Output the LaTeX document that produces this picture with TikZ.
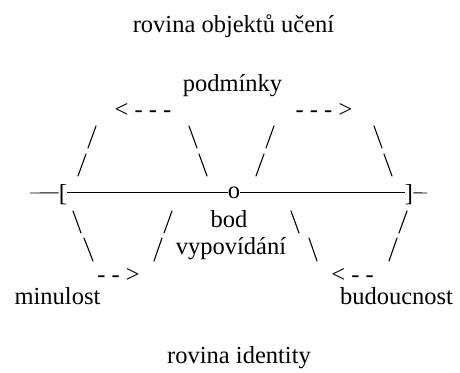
\documentclass[tikz,border=0pt]{standalone}
\usepackage{fontspec}
\setmainfont{Liberation Serif}
\begin{document}
\begin{tikzpicture}[x=1pt,y=-1pt,
  lbl/.style={font=\fontsize{24.5}{28}\selectfont, inner sep=0pt, anchor=base},
  slash/.style={line width=1.1pt, line cap=round},
  axis/.style={line width=0.9pt}]
\useasboundingbox (0,0) rectangle (460,372);

% labels
\node[lbl] (top) at (233.5,32) {rovina objektů učení};
\node[lbl] (cond) at (232.5,91) {podmínky};
\node[lbl] (cl) at (143,117) {< - - -};
\node[lbl] (cr) at (324,117) {- - - >};
\node[lbl] (bod) at (229,227) {bod};
\node[lbl] (vyp) at (231,254) {vypovídání};
\node[lbl] (pl) at (118.5,282) {- - >};
\node[lbl] (fr) at (352.5,282) {< - -};
\node[lbl] (past) at (57.5,304) {minulost};
\node[lbl] (fut) at (396.5,304) {budoucnost};
\node[lbl] (bottom) at (239,363) {rovina identity};

% time axis
\node[lbl] (lb) at (63,201) {[};
\node[lbl] (oc) at (234,198.5) {o};
\node[lbl] (rb) at (409,201) {]};
\coordinate (ls) at (30,193);
\coordinate (re) at (427,193);
\draw[axis] (ls) -- (lb.west |- oc.west);
\draw[axis] (lb.east |- oc.west) -- (oc.west);
\draw[axis] (oc.east) -- (rb.west |- oc.west);
\draw[axis] (rb.east |- oc.east) -- (re);

% upper strokes
\draw[slash] (96,126) -- (88,148);
\draw[slash] (86,154) -- (78,176);
\draw[slash] (189,126) -- (197,148);
\draw[slash] (199,154) -- (207,176);
\draw[slash] (274,126) -- (266,148);
\draw[slash] (264,154) -- (256,176);
\draw[slash] (374,126) -- (382,148);
\draw[slash] (384,154) -- (392,176);

% lower strokes
\draw[slash] (73,211) -- (81,233);
\draw[slash] (84,238) -- (93,261);
\draw[slash] (172,211) -- (164,233);
\draw[slash] (162,238) -- (154,261);
\draw[slash] (291,211) -- (299,233);
\draw[slash] (309,238) -- (317,261);
\draw[slash] (407,211) -- (399,233);
\draw[slash] (397,238) -- (389,261);
\end{tikzpicture}
\end{document}
